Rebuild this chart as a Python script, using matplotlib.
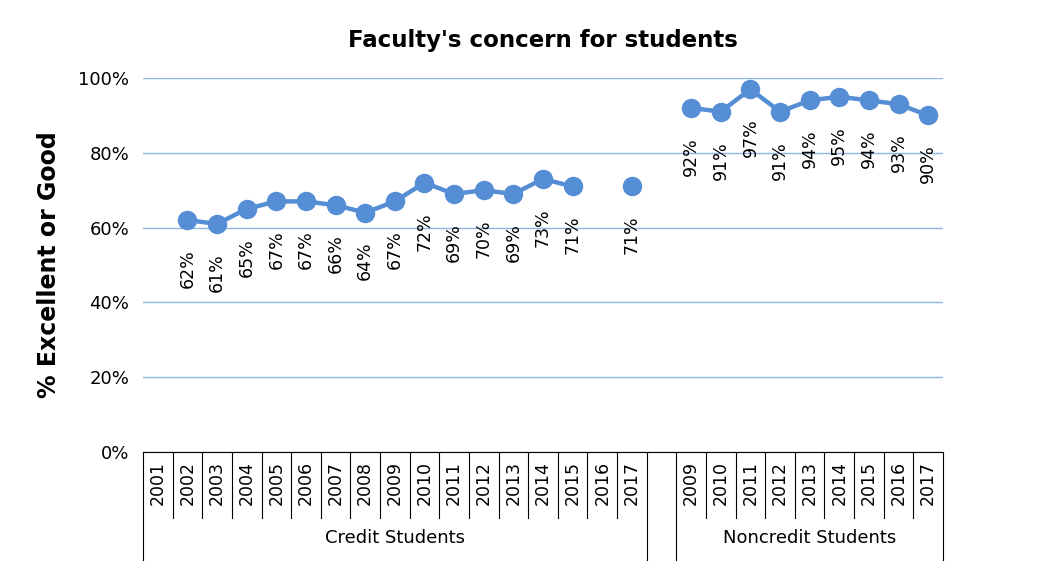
import matplotlib
matplotlib.use("Agg")
import matplotlib.pyplot as plt
import matplotlib.transforms as mtransforms
import numpy as np

credit_years = [str(y) for y in range(2001, 2018)]
credit_vals = [None, 62, 61, 65, 67, 67, 66, 64, 67, 72, 69, 70, 69, 73, 71, None, 71]
noncredit_years = [str(y) for y in range(2009, 2018)]
noncredit_vals = [92, 91, 97, 91, 94, 95, 94, 93, 90]
groups = ["Credit Students", "Noncredit Students"]

color = "#558ED5"
fig = plt.figure(figsize=(10.54, 5.75), dpi=100)
ax = fig.add_axes([143/1054, (575-452)/575, 800/1054, 374/575])

labels = credit_years + [""] + noncredit_years
vals = credit_vals + [None] + noncredit_vals
n = len(labels)
x = np.arange(n)
y = np.array([np.nan if v is None else v/100 for v in vals])
ax.plot(x, y, color=color, lw=3.2, marker="o", ms=13, zorder=3)
for xi, yi in zip(x, y):
    if not np.isnan(yi):
        ax.annotate(f"{round(yi*100)}%", (xi, yi), xytext=(0, -21), textcoords="offset points",
                    rotation=90, ha="center", va="top", fontsize=12.5)

ax.set_xlim(-0.5, n-0.5)
ax.set_ylim(0, 1)
ax.set_yticks(np.arange(0, 1.01, 0.2))
ax.set_yticklabels([f"{int(t*100)}%" for t in np.arange(0, 1.01, 0.2)], fontsize=13)
ax.yaxis.grid(True, color="#8EB4E3", lw=1)
ax.set_axisbelow(True)
for s in ["top", "right", "left"]:
    ax.spines[s].set_visible(False)
ax.spines["bottom"].set_color("black")
ax.tick_params(axis="y", length=0, pad=10)
ax.set_xticks([])
ax.set_ylabel("% Excellent or Good", fontsize=17, fontweight="bold", labelpad=12)
ax.set_title("Faculty's concern for students", fontsize=16.5, fontweight="bold", pad=22)

tr = mtransforms.blended_transform_factory(ax.transData, ax.transAxes)
y1 = -66/374
y2 = -108/374
nc = len(credit_years)
for i, lab in enumerate(labels):
    if lab:
        ax.text(i, -0.025, lab, transform=tr, rotation=90, ha="center", va="top", fontsize=12.5)
for b in range(nc+1):
    ax.plot([b-0.5, b-0.5], [0, y1 if 0 < b < nc else y2], transform=tr, color="black", lw=0.8, clip_on=False)
for b in range(nc+1, n+1):
    ax.plot([b-0.5, b-0.5], [0, y1 if nc+1 < b < n else y2], transform=tr, color="black", lw=0.8, clip_on=False)
ax.text((nc-1)/2, -86/374, groups[0], transform=tr, ha="center", va="center", fontsize=13)
ax.text((nc+1+n-1)/2, -86/374, groups[1], transform=tr, ha="center", va="center", fontsize=13)

fig.savefig("out.png", dpi=100)
